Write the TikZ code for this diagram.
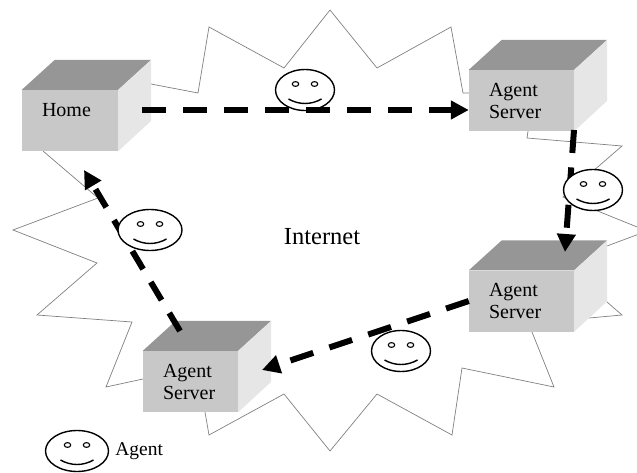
\documentclass[tikz,border=0pt]{standalone}
\usepackage{fontspec}
\setmainfont{Liberation Serif}
\usetikzlibrary{positioning, calc, arrows.meta, shapes.geometric}
\definecolor{frontgray}{HTML}{C8C8C8}
\definecolor{topgray}{HTML}{969696}
\definecolor{sidegray}{HTML}{E6E6E6}
\tikzset{
	hostbox/.style={rectangle, fill=frontgray, inner ysep=0pt, inner xsep=20pt, minimum height=61pt, minimum width=#1, text width=#1-40pt, align=left, font=\fontsize{20}{22}\selectfont},
	cloud line/.style={draw=black!50, line width=0.7pt, line join=miter},
	hop/.style={-{Triangle[length=18pt,width=18pt]}, line width=6pt, dash pattern=on 24pt off 17pt, draw=black},
	face/.style={ellipse, draw=black, line width=1.4pt, fill=white, minimum width=#1, minimum height=41pt, inner sep=0pt},
	eye/.style={draw=black, line width=1.1pt},
	mouth/.style={draw=black, line width=1.4pt},
}
\newcommand{\boxfaces}[1]{%
	\fill[topgray] (#1.north west) -- ++(33,-30) -- ($(#1.north east)+(33,-30)$) -- (#1.north east) -- cycle;
	\fill[sidegray] (#1.north east) -- ++(33,-30) -- ++(0,61) -- (#1.south east) -- cycle;
}
\newcommand{\smiley}[1]{%
	\draw[eye] ($(#1)+(-9.5,-6)$) circle [x radius=3.2, y radius=2.4];
	\draw[eye] ($(#1)+(9.5,-6)$) circle [x radius=3.2, y radius=2.4];
	\draw[mouth] ($(#1)+(-16.5,9)$) .. controls ($(#1)+(-6,15)$) and ($(#1)+(6,15)$) .. ($(#1)+(16.5,9)$);
}
\begin{document}
\begin{tikzpicture}[x=1pt, y=-1pt]
	\useasboundingbox (0,0) rectangle (637,473);
	% The cloud outline
	\draw [cloud line] (151,84) -- (198,93) -- (209,27) -- (284,68) -- (330,10) -- (377,68) -- (451,27) -- (463,93) -- (470,93);
	\draw [cloud line] (528,131) -- (527,138) -- (622,146) -- (563,197) -- (647,231) -- (607,246);
	\draw [cloud line] (607,302) -- (622,315) -- (589,318);
	\draw [cloud line] (532,332) -- (554,387) -- (462,368) -- (452,435) -- (377,394) -- (330,451) -- (284,394) -- (209,435) -- (205,412);
	\draw [cloud line] (143,379) -- (106,387) -- (132,322) -- (37,315) -- (97,263) -- (13,230) -- (98,198) -- (43,151);
	% The hosts
	\node (home) [hostbox=96pt] at (70,120.5) {Home\\~};
	\node (serverA) [hostbox=105pt] at (521.5,100.5) {Agent\\Server};
	\node (serverB) [hostbox=105pt] at (521.5,301) {Agent\\Server};
	\node (serverC) [hostbox=95pt] at (190.5,381.5) {Agent\\Server};
	\boxfaces{home}
	\boxfaces{serverA}
	\boxfaces{serverB}
	\boxfaces{serverC}
	% Where the hops leave and arrive
	\coordinate (homeOut) at (142,110);
	\coordinate (aOut) at (574,130);
	\coordinate (bIn) at (565,252);
	\coordinate (cIn) at (262,370);
	\coordinate (cOut) at (180,331);
	\coordinate (homeIn) at (84,170);
	\draw [hop, dash pattern=on 23pt off 14.5pt] (aOut) -- (bIn);
	\draw [hop] (serverB.west) -- (cIn);
	\draw [hop, dash pattern=on 21pt off 15pt] (cOut) -- (homeIn);
	% The agents
	\node (agentA) [face=59pt] at (305,90) {};
	\node (agentB) [face=59pt] at (593,190) {};
	\node (agentC) [face=64pt] at (150,230) {};
	\node (agentD) [face=59pt] at (401,351) {};
	\node (legend) [face=63pt] at (77,451) {};
	\smiley{agentA}
	\smiley{agentB}
	\smiley{agentC}
	\smiley{agentD}
	\smiley{legend}
	\draw [hop] (homeOut) -- (serverA.west |- homeOut);
	% The labels
	\node (internet) [font=\fontsize{24.5}{26}\selectfont] at (322,237) {Internet};
	\node (legendText) [right=0pt of legend, font=\fontsize{19.5}{21}\selectfont, inner sep=6pt] {Agent};
\end{tikzpicture}
\end{document}
